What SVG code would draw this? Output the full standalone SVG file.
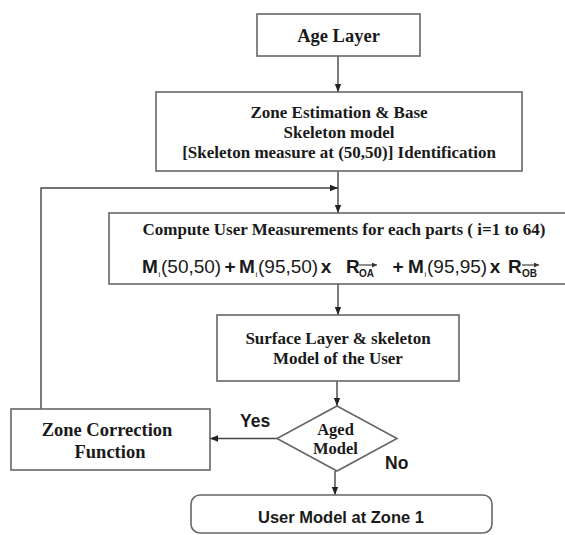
<svg xmlns="http://www.w3.org/2000/svg" width="565" height="535" viewBox="0 0 565 535">
<defs>
<marker id="ah" markerUnits="userSpaceOnUse" markerWidth="8" markerHeight="8" viewBox="0 0 8 8" refX="8" refY="4" orient="auto">
<path d="M0,0.8 L8,4 L0,7.2 Z" fill="#222"/>
</marker>
<marker id="sa" markerUnits="userSpaceOnUse" markerWidth="5" markerHeight="5" viewBox="0 0 5 5" refX="5" refY="2.5" orient="auto">
<path d="M0,0 L5,2.5 L0,5 Z" fill="#333"/>
</marker>
</defs>
<style>
.box{fill:#fff;stroke:#666;stroke-width:1.6}
.ln{fill:none;stroke:#444;stroke-width:1.4}
.t{font-family:"Liberation Serif","Times New Roman",serif;font-weight:bold;fill:#1a1a1a;text-anchor:middle}
.a{font-family:"Liberation Sans",Arial,sans-serif;fill:#1a1a1a}
.b{font-weight:bold}
</style>
<rect width="565" height="535" fill="#fff"/>
<g id="connectors">
<line class="ln" x1="338" y1="56" x2="338" y2="92" marker-end="url(#ah)"/>
<line class="ln" x1="338" y1="171" x2="338" y2="213" marker-end="url(#ah)"/>
<polyline class="ln" points="41,409 41,188 338,188" marker-end="url(#ah)"/>
<line class="ln" x1="338" y1="284" x2="338" y2="315" marker-end="url(#ah)"/>
<line class="ln" x1="337" y1="381" x2="337" y2="406" marker-end="url(#ah)"/>
<line class="ln" x1="277" y1="438.5" x2="210" y2="438.5" marker-end="url(#ah)"/>
<line class="ln" x1="335" y1="471" x2="335" y2="495" marker-end="url(#ah)"/>
<text class="a b" x="240" y="427" font-size="17.5">Yes</text>
<text class="a b" x="385" y="469" font-size="17.5">No</text>
</g>
<g id="age-layer">
<rect class="box" x="257" y="14" width="163" height="42"/>
<text class="t" x="338.5" y="42" font-size="18.5">Age Layer</text>
</g>
<g id="zone-estimation">
<rect class="box" x="156" y="92" width="366" height="79"/>
<text class="t" x="339" y="118" font-size="17">Zone Estimation &amp; Base</text>
<text class="t" x="339" y="138" font-size="17">Skeleton model</text>
<text class="t" x="339" y="158" font-size="17">[Skeleton measure at (50,50)] Identification</text>
</g>
<g id="compute">
<rect class="box" x="109" y="213" width="462" height="71"/>
<text class="t" x="344" y="235" font-size="17">Compute User Measurements for each parts ( i=1 to 64)</text>
<g class="a" font-size="19">
<text class="b" x="142" y="273">M</text>
<text x="158.5" y="277" font-size="8">i</text>
<text x="161" y="273">(50,50)</text>
<text class="b" x="230" y="273" text-anchor="middle">+</text>
<text class="b" x="239" y="273">M</text>
<text x="255.5" y="277" font-size="8">i</text>
<text x="258" y="273">(95,50)</text>
<text class="b" x="326" y="273" text-anchor="middle">x</text>
<text class="b" x="346" y="273">R</text>
<text class="b" x="359" y="277" font-size="10">OA</text>
<text class="b" x="398" y="273" text-anchor="middle">+</text>
<text class="b" x="408" y="273">M</text>
<text x="424.5" y="277" font-size="8">i</text>
<text x="427" y="273">(95,95)</text>
<text class="b" x="495" y="273" text-anchor="middle">x</text>
<text class="b" x="508" y="273">R</text>
<text class="b" x="522" y="277" font-size="10">OB</text>
</g>
<line x1="359" y1="265" x2="377" y2="265" stroke="#333" stroke-width="1.1" marker-end="url(#sa)"/>
<line x1="522" y1="265" x2="539" y2="265" stroke="#333" stroke-width="1.1" marker-end="url(#sa)"/>
</g>
<g id="surface-layer">
<rect class="box" x="217" y="315" width="242" height="66"/>
<text class="t" x="338" y="344" font-size="17">Surface Layer &amp; skeleton</text>
<text class="t" x="338" y="364" font-size="17">Model of the User</text>
</g>
<g id="aged-model">
<polygon class="box" points="337,406 397,438.5 337,471 277,438.5"/>
<text class="t" x="335.5" y="435" font-size="16.5">Aged</text>
<text class="t" x="335.5" y="454" font-size="16.5">Model</text>
</g>
<g id="zone-correction">
<rect class="box" x="11" y="409" width="199" height="61"/>
<text class="t" x="107" y="436" font-size="18.5">Zone Correction</text>
<text class="t" x="110" y="458" font-size="18.5">Function</text>
</g>
<g id="user-model">
<rect class="box" x="191" y="495" width="301" height="38" rx="9"/>
<text class="a b" x="341" y="523" font-size="16.5" text-anchor="middle">User Model at Zone 1</text>
</g>
</svg>
